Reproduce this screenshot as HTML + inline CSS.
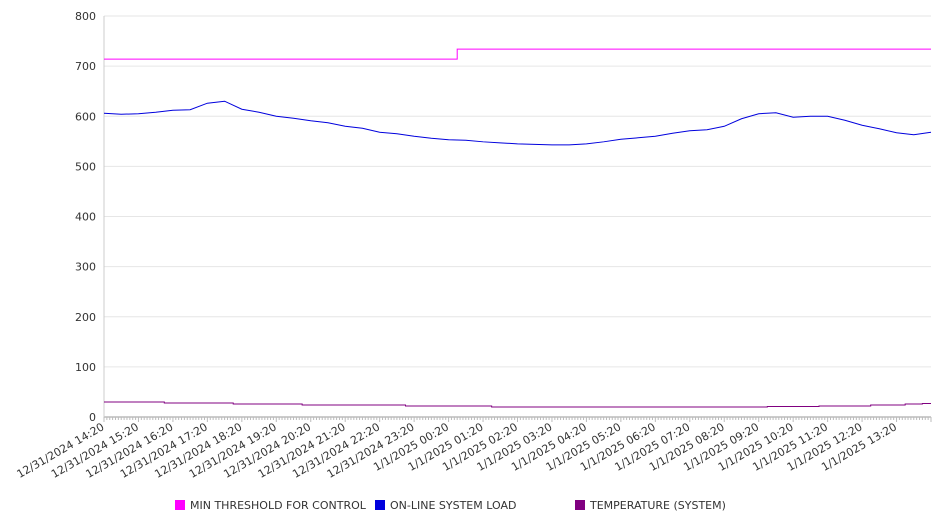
<!DOCTYPE html>
<html><head><meta charset="utf-8"><style>
body{margin:0;background:#fff;font-family:"DejaVu Sans","Liberation Sans",sans-serif;}
svg text{font-family:"DejaVu Sans","Liberation Sans",sans-serif;font-size:11px;fill:#333;}
</style></head><body>
<svg id="chart" width="946" height="526" xmlns="http://www.w3.org/2000/svg"></svg>
<script>
const yTicks=[0,100,200,300,400,500,600,700,800];
const xLabels=["12/31/2024 14:20","12/31/2024 15:20","12/31/2024 16:20","12/31/2024 17:20","12/31/2024 18:20","12/31/2024 19:20","12/31/2024 20:20","12/31/2024 21:20","12/31/2024 22:20","12/31/2024 23:20","1/1/2025 00:20","1/1/2025 01:20","1/1/2025 02:20","1/1/2025 03:20","1/1/2025 04:20","1/1/2025 05:20","1/1/2025 06:20","1/1/2025 07:20","1/1/2025 08:20","1/1/2025 09:20","1/1/2025 10:20","1/1/2025 11:20","1/1/2025 12:20","1/1/2025 13:20"];
const loadValues=[606,604,605,608,612,613,626,630,614,608,600,596,591,587,580,576,568,565,560,556,553,552,549,547,545,544,543,543,545,549,554,557,560,566,571,573,580,595,605,607,598,600,600,592,582,575,567,563,568];
const thresholdValues=[714,714,714,714,714,714,714,714,714,714,714,714,714,714,714,714,714,714,714,714,714,734,734,734,734,734,734,734,734,734,734,734,734,734,734,734,734,734,734,734,734,734,734,734,734,734,734,734,734];
const tempValues=[30,30,30,30,28,28,28,28,26,26,26,26,24,24,24,24,24,24,22,22,22,22,22,20,20,20,20,20,20,20,20,20,20,20,20,20,20,20,20,21,21,21,22,22,22,24,24,26,27];
const seriesNames=["MIN THRESHOLD FOR CONTROL","ON-LINE SYSTEM LOAD","TEMPERATURE (SYSTEM)"];
const seriesColors=["#ff00ff","#0000dd","#800080"];

const NS="http://www.w3.org/2000/svg";
const svg=document.getElementById('chart');
const X0=104,X1=931,Y0=417,Y1=16;
const ymax=800;
const hours=24;
function xs(i){return X0+(X1-X0)*(i/2)/hours;}
function xh(h){return X0+(X1-X0)*h/hours;}
function ys(v){return Y0-(Y0-Y1)*v/ymax;}
function el(t,a){const e=document.createElementNS(NS,t);for(const k in a)e.setAttribute(k,a[k]);svg.appendChild(e);return e;}

yTicks.forEach(v=>{
  const g=el('line',{x1:X0,x2:X1,y1:ys(v),y2:ys(v),stroke:v===0?'#999':'#e6e6e6','stroke-width':1});
  
  
  const t=el('text',{x:96,y:ys(v)+4,'text-anchor':'end'});
  t.textContent=v;
  
  
});
const ax=el('line',{x1:X0,x2:X0,y1:Y1,y2:Y0,stroke:'#ccc'});


for(let m=0;m<=hours*12;m++){
  const x=X0+(X1-X0)*m/(hours*12);
  const tk=el('line',{x1:x,x2:x,y1:Y0,y2:Y0+(m%12===0?5:3),stroke:'#bbb'});
  
  
}
xLabels.forEach((l,i)=>{
  const x=xh(i)+1;
  const t=el('text',{x:x,y:Y0+12,'text-anchor':'end',transform:`rotate(-30 ${x} ${Y0+12})`});
  t.textContent=l;
  
  
});
function line(vals,color,name,step){
  let d='';
  vals.forEach((v,i)=>{
    if(i===0)d+=`M${xs(i)},${ys(v)}`;
    else if(step){const xm=(xs(i-1)+xs(i))/2;d+=`L${xm},${ys(vals[i-1])}L${xm},${ys(v)}L${xs(i)},${ys(v)}`;}
    else d+=`L${xs(i)},${ys(v)}`;
  });
  const p=el('path',{d:d,fill:'none',stroke:color,'stroke-width':1});
  
  
}
line(thresholdValues,seriesColors[0],'threshold-line',true);
line(loadValues,seriesColors[1],'load-line',false);
line(tempValues,seriesColors[2],'temperature-line',true);
const lx=[175,375,575];
seriesNames.forEach((n,i)=>{
  const r=el('rect',{x:lx[i],y:500,width:10,height:10,fill:seriesColors[i]});
  
  
  const t=el('text',{x:lx[i]+15,y:509});
  t.textContent=n;
  
  
});
</script>
</body></html>
